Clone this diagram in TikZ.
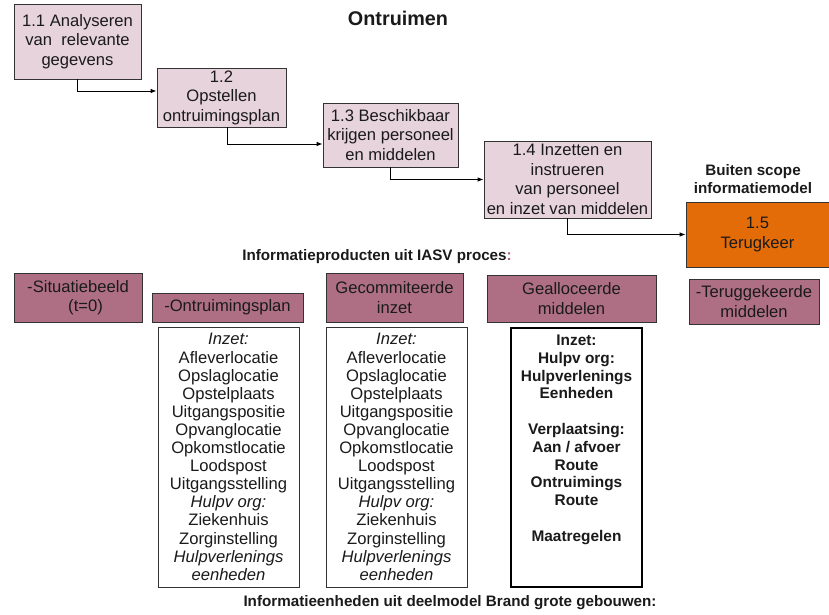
\documentclass[tikz,border=0pt]{standalone}
\usepackage{fontspec}
\setmainfont{Liberation Sans}
\usetikzlibrary{arrows.meta}

\definecolor{procfill}{HTML}{E6D3DB}
\definecolor{prodfill}{HTML}{AE6F84}
\definecolor{outfill}{HTML}{E36C09}
\definecolor{edge}{HTML}{333333}
\definecolor{ink}{HTML}{1A1A1A}
\definecolor{colon}{HTML}{B0607A}

\begin{document}
\begin{tikzpicture}[x=1pt,y=-1pt,
  box/.style={draw=edge, line width=0.8pt, inner sep=0pt, align=center,
    text=ink, font=\fontsize{16.6}{19.5}\selectfont},
  proc/.style={box, fill=procfill},
  outproc/.style={box, fill=outfill},
  prod/.style={box, fill=prodfill},
  listbox/.style={box, fill=white, font=\fontsize{16.6}{18.1}\selectfont},
  heading/.style={inner sep=0pt, align=center, text=ink,
    font=\fontsize{15.2}{18}\selectfont\bfseries},
  flow/.style={draw=black, line width=0.8pt,
    -{Latex[length=6pt,width=4.5pt]}}
]
\useasboundingbox (0,0) rectangle (829,615);

% title
\node[heading, font=\fontsize{19.8}{22}\selectfont\bfseries] (title) at (398,18) {Ontruimen};

% process steps
\node[proc, minimum width=127, minimum height=75] (p1) at (77.5,41.5)
  {1.1 Analyseren\\van\ \ relevante\\gegevens};
\node[proc, minimum width=129, minimum height=59] (p2) at (221.5,97.5)
  {1.2\\Opstellen\\ontruimingsplan};
\node[proc, minimum width=135, minimum height=64] (p3) at (390.5,135)
  {1.3 Beschikbaar\\krijgen personeel\\en middelen};
\node[proc, minimum width=167, minimum height=77] (p4) at (567.5,179.5)
  {1.4 Inzetten en\\instrueren\\van personeel\\en inzet van middelen};
\node[outproc, minimum width=143, minimum height=65] (p5) at (757.5,234.5)
  {1.5\\Terugkeer};

\node[heading] (scope) at (753,179) {Buiten scope\\informatiemodel};

% flow between the steps
\draw[flow] (p1.south) |- ([yshift=6.5]p2.west);
\draw[flow] ([xshift=5.5]p2.south) |- ([yshift=-9]p3.west);
\draw[flow] (p3.south) |- (p4.west);
\draw[flow] (p4.south) |- (p5.west);

% information products
\node[heading] (prodhead) at (377,257)
  {Informatieproducten uit IASV proces\textcolor{colon}{:}};

\node[prod, minimum width=128, minimum height=49, align=left] (s1) at (78,297.5)
  {-Situatiebeeld\\\hspace*{41pt}(t=0)};
\node[prod, minimum width=151, minimum height=29] (s2) at (227.5,307.5)
  {-Ontruimingsplan};
\node[prod, minimum width=137, minimum height=49] (s3) at (394.5,297.5)
  {Gecommiteerde\\inzet};
\node[prod, minimum width=169, minimum height=47] (s4) at (571.5,298.5)
  {Gealloceerde\\middelen};
\node[prod, minimum width=130, minimum height=45] (s5) at (754,301.5)
  {-Teruggekeerde\\middelen};

% information units
\node[listbox, minimum width=141, minimum height=260] (w1) at (228.5,457)
  {\textit{Inzet:}\\Afleverlocatie\\Opslaglocatie\\Opstelplaats\\Uitgangspositie\\
   Opvanglocatie\\Opkomstlocatie\\Loodspost\\Uitgangsstelling\\\textit{Hulpv org:}\\
   Ziekenhuis\\Zorginstelling\\\textit{Hulpverlenings}\\\textit{eenheden}};
\node[listbox, minimum width=141, minimum height=260] (w2) at (396.5,457)
  {\textit{Inzet:}\\Afleverlocatie\\Opslaglocatie\\Opstelplaats\\Uitgangspositie\\
   Opvanglocatie\\Opkomstlocatie\\Loodspost\\Uitgangsstelling\\\textit{Hulpv org:}\\
   Ziekenhuis\\Zorginstelling\\\textit{Hulpverlenings}\\\textit{eenheden}};
\node[listbox, line width=1.6pt, draw=black, minimum width=131, minimum height=259] (w3) at (576.5,457.5) {};
\node[heading, anchor=north, font=\fontsize{15.4}{17.8}\selectfont\bfseries] (w3text)
  at ([yshift=-7.5]w3.north)
  {Inzet:\\Hulpv org:\\Hulpverlenings\\Eenheden\\[17.8pt]Verplaatsing:\\Aan / afvoer\\
   Route\\Ontruimings\\Route\\[17.8pt]Maatregelen};

\node[heading] (unithead) at (450,603)
  {Informatieenheden uit deelmodel Brand grote gebouwen:};
\end{tikzpicture}
\end{document}
